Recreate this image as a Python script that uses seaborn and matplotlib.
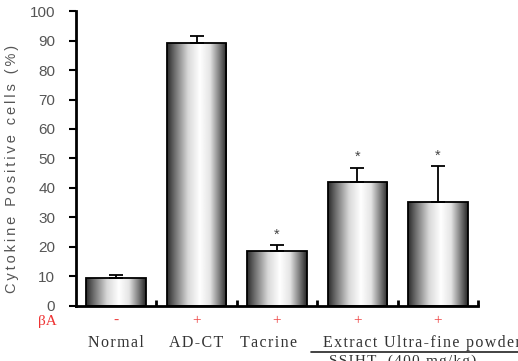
import numpy as np
import matplotlib
matplotlib.use("Agg")
import matplotlib.pyplot as plt
import matplotlib.transforms as mtransforms
from matplotlib.colors import LinearSegmentedColormap
import seaborn as sns

# data
groups = ["Normal", "AD-CT", "Tacrine", "Extract", "Ultra-fine powder"]
values = [9.5, 89.0, 18.6, 42.1, 35.4]
errors = [1.0, 2.5, 2.1, 4.8, 12.0]
beta_a = ["-", "+", "+", "+", "+"]
significant = [False, False, True, True, True]
yticks = list(range(0, 101, 10))


def spaced(s, sep="\u2009"):
    """Loose letter spacing, like the original figure."""
    return sep.join(s)


sns.set_theme(style="white")
plt.rcParams["font.family"] = ["Liberation Sans", "DejaVu Sans"]
plt.rcParams["ytick.major.pad"] = 10

fig = plt.figure(figsize=(5.18, 3.61), dpi=100)
ax = fig.add_axes([0.1467, 0.1524, 0.776, 0.8171])

sns.barplot(x=groups, y=values, color="white", edgecolor="black",
            linewidth=1.3, width=0.74, errorbar=None, ax=ax, saturation=1)

# cylinder-like grey shading on every bar
shade = LinearSegmentedColormap.from_list(
    "cyl", [(0.0, "#2a2a2a"), (0.12, "#6a6a6a"), (0.35, "#d8d8d8"),
            (0.55, "#ffffff"), (0.72, "#e4e4e4"), (0.88, "#7a7a7a"),
            (1.0, "#262626")])
grad = np.linspace(0, 1, 256).reshape(1, -1)
for p in ax.patches:
    x0, y0 = p.get_x(), p.get_y()
    w, h = p.get_width(), p.get_height()
    im = ax.imshow(grad, cmap=shade, aspect="auto", extent=(x0, x0 + w, y0, y0 + h),
                   zorder=p.get_zorder() - 0.1, interpolation="bicubic")
    im.set_clip_path(p)
    p.set_facecolor("none")
    p.set_zorder(3)

xs = np.arange(len(groups))
ax.errorbar(xs, values, yerr=[[0] * len(errors), errors], fmt="none",
            ecolor="black", elinewidth=1.3, capsize=5, capthick=1.3, zorder=2)

for x, v, e, s in zip(xs, values, errors, significant):
    if s:
        ax.text(x, v + e + 1.2, "*", ha="center", va="bottom", fontsize=10.5, color="#444444")

ax.set_xlim(-0.5, 4.5)
ax.set_ylim(0, 100)
ax.set_yticks(yticks)
ax.set_yticklabels([str(t) for t in yticks], fontsize=11, color="#555555")
ax.set_ylabel(spaced("Cytokine Positive cells (%)"), fontsize=10.5, color="#555555")
ax.yaxis.set_label_coords(-0.143, 0.463)

ax.set_xticks([])
ax.set_xticks(np.arange(0.5, 4.6, 1.0), minor=True)
ax.tick_params(axis="x", which="minor", direction="in", length=4, width=2, color="black", bottom=True)
ax.tick_params(axis="y", which="major", direction="out", length=5, width=1.5,
               color="black", left=True, pad=10)
ax.set_xlabel("")

for side in ["top", "right"]:
    ax.spines[side].set_visible(False)
for side in ["left", "bottom"]:
    ax.spines[side].set_linewidth(2)
    ax.spines[side].set_color("black")

# rows under the axis
trans = mtransforms.blended_transform_factory(ax.transData, ax.transAxes)
serif = ["Liberation Serif", "DejaVu Serif"]
ax.text(-0.86, -0.052, "βA", transform=trans, ha="center", va="center",
        fontsize=11, color="#ee3333", family=serif, clip_on=False)
for x, s in zip(xs, beta_a):
    ax.text(x, -0.05, s, transform=trans, ha="center", va="center",
            fontsize=11, color="#ee4444", family=serif, clip_on=False)

name_y = -0.125
hair = "\u200a"
ax.text(0, name_y, spaced(groups[0], hair), transform=trans, ha="center", va="center",
        fontsize=11.5, color="#333333", family=serif, clip_on=False)
ax.text(1, name_y, spaced(groups[1], hair), transform=trans, ha="center", va="center",
        fontsize=11.5, color="#333333", family=serif, clip_on=False)
ax.text(1.89, name_y, spaced(groups[2], hair), transform=trans, ha="center", va="center",
        fontsize=11.5, color="#333333", family=serif, clip_on=False)
ax.text(2.57, name_y, spaced(groups[3] + " " + groups[4], hair), transform=trans,
        ha="left", va="center", fontsize=11.5, color="#333333", family=serif, clip_on=False)
ax.plot([2.42, 5.2], [-0.157, -0.157], transform=trans, color="#222222",
        lw=1.2, clip_on=False)
ax.text(2.65, -0.163, spaced("SSIHT  (400 mg/kg)", hair), transform=trans, ha="left",
        va="top", fontsize=11, color="#333333", family=serif, clip_on=False)

fig.savefig("out.png", dpi=100)
